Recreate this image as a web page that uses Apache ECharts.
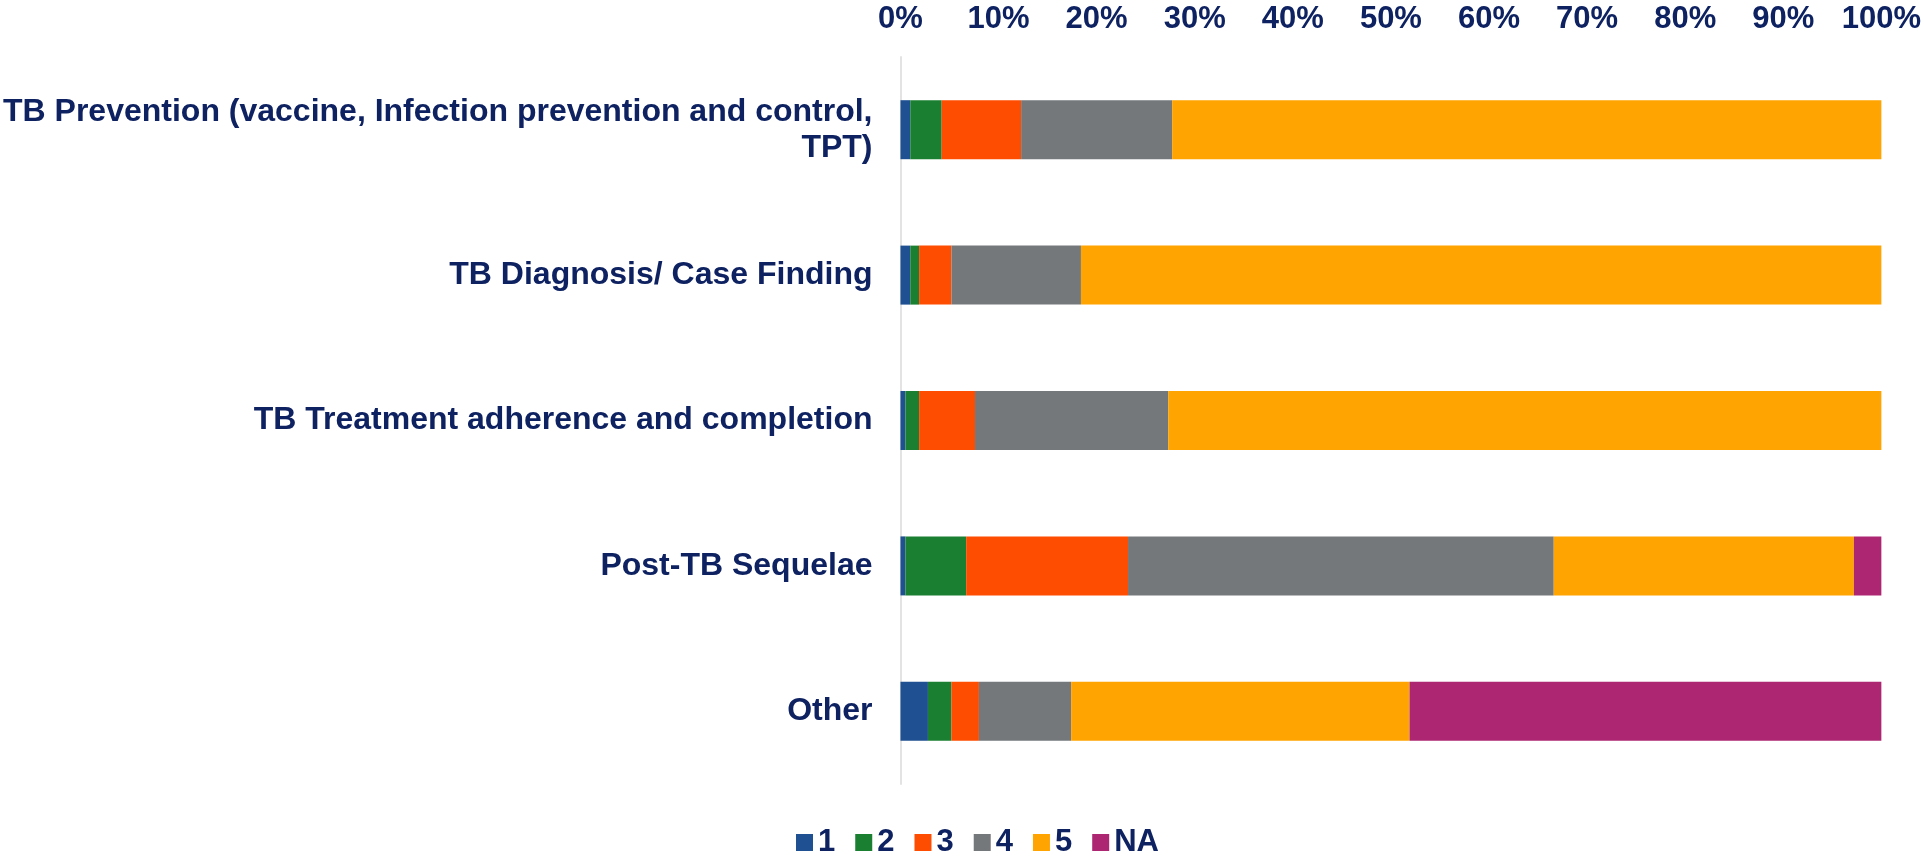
<!DOCTYPE html>
<html>
<head>
<meta charset="utf-8">
<script src="https://cdn.jsdelivr.net/npm/echarts@6/dist/echarts.min.js"></script>
<style>
  html, body { margin: 0; padding: 0; background: #fff; }
  #chart { width: 1924px; height: 856px; }
</style>
</head>
<body>
<div id="chart"></div>
<script>
// categories top to bottom
var categories = [
  'TB Prevention (vaccine, Infection prevention and control,\nTPT)',
  'TB Diagnosis/ Case Finding',
  'TB Treatment adherence and completion',
  'Post-TB Sequelae',
  'Other'
];
// share of answers (%) per rating
var r1 = [1.0, 1.0, 0.5, 0.5, 2.8];
var r2 = [3.2, 0.9, 1.4, 6.2, 2.4];
var r3 = [8.1, 3.3, 5.7, 16.5, 2.8];
var r4 = [15.4, 13.2, 19.7, 43.4, 9.4];
var r5 = [72.3, 81.6, 72.7, 30.6, 34.5];
var rNA = [0, 0, 0, 2.8, 48.1];
var seriesNames = ['1', '2', '3', '4', '5', 'NA'];
var colors = ['#1f5091', '#1a7f31', '#fe4c00', '#75787b', '#ffa400', '#ad2672'];

var navy = '#0e2261';
var font = '"Liberation Sans", Arial, sans-serif';

var values = [r1, r2, r3, r4, r5, rNA];
var series = [];
values.forEach(function (v, i) {
  series.push({
    name: seriesNames[i],
    type: 'bar',
    stack: 'total',
    barWidth: 59,
    data: v,
    itemStyle: { color: colors[i] }
  });
});

var chart = echarts.init(document.getElementById('chart'));
chart.setOption({
  animation: false,
  color: colors,
  grid: { left: 900, right: 36, top: 57, bottom: 72, containLabel: false },
  legend: {
    left: 791,
    top: 822,
    itemWidth: 17,
    itemHeight: 17,
    itemGap: 20,
    icon: 'rect',
    textStyle: { color: navy, fontSize: 31, fontWeight: 'bold', fontFamily: font },
    data: seriesNames
  },
  xAxis: {
    type: 'value',
    position: 'top',
    min: 0,
    max: 100,
    interval: 10,
    axisLine: { show: false },
    axisTick: { show: false },
    splitLine: { show: false },
    axisLabel: {
      formatter: '{value}%',
      color: navy,
      fontSize: 31,
      fontWeight: 'bold',
      fontFamily: font,
      margin: 22
    }
  },
  yAxis: {
    type: 'category',
    inverse: true,
    data: categories,
    axisTick: { show: false },
    axisLine: { show: true, lineStyle: { color: '#e3e3e3', width: 2 } },
    axisLabel: {
      color: navy,
      fontSize: 32,
      fontWeight: 'bold',
      fontFamily: font,
      lineHeight: 36,
      margin: 28
    }
  },
  series: series
});
</script>
</body>
</html>
